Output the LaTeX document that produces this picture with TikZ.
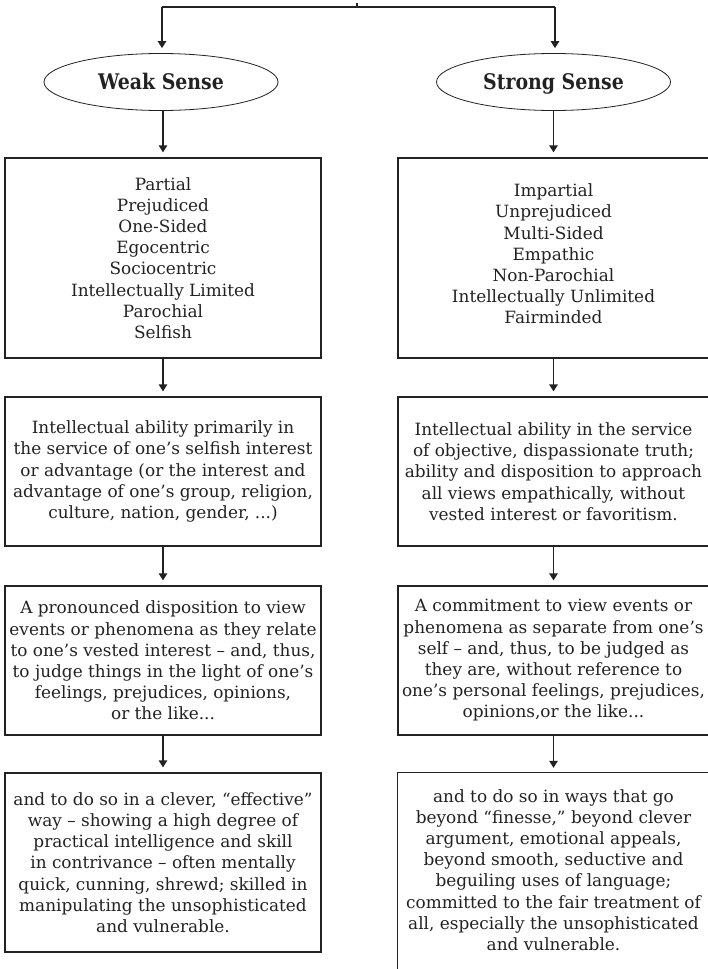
\documentclass[tikz,border=0pt]{standalone}
\usepackage{fontspec}
\setmainfont{DejaVu Serif}
\newfontfamily\titlefont[FakeStretch=0.88]{DejaVu Serif}
\usetikzlibrary{arrows.meta,shapes.geometric}
\definecolor{ink}{HTML}{222222}
\tikzset{
  line/.style={draw=ink, line width=1.3pt},
  arr/.style={line, -{Triangle[width=8.5pt,length=7pt]}, shorten >=5pt},
  oval/.style={ellipse, draw=ink, line width=0.8pt, minimum width=234pt, minimum height=57pt, inner sep=0pt,
    text height=15.7pt, text depth=0pt,
    font=\titlefont\bfseries\fontsize{21.5}{24}\selectfont, text=ink},
  box/.style={rectangle, draw=ink, line width=1.3pt, inner sep=0pt, align=center, text=ink,
    font=\fontsize{16.9}{21.2}\selectfont},
  txt/.style={inner sep=0pt, align=center, text=ink, font=\fontsize{16.9}{21.2}\selectfont},
}
\begin{document}
\begin{tikzpicture}[x=1pt,y=-1pt]
\useasboundingbox (0,0) rectangle (708,969);
% top connector
\coordinate (top) at (357,7);
\coordinate (tick) at (357,3);
\coordinate (jl) at (162,7);
\coordinate (jr) at (555,7);
\draw[line] (tick) -- (top);
\draw[line] (jl) -- (jr);
% ellipses
\node[oval] (WS) at (161,82) {Weak Sense};
\node[oval] (SS) at (553.5,82) {Strong Sense};
\draw[arr] (jl) -- (jl |- WS.north);
\draw[arr] (jr) -- (jr |- SS.north);
% row 1
\node[box, minimum width=316pt, minimum height=200pt] (L1) at (163,258)
 {Partial\\Prejudiced\\One-Sided\\Egocentric\\Sociocentric\\Intellectually Limited\\Parochial\\Selfish};
\node[box, minimum width=311pt, minimum height=200pt] (R1) at (553.5,258) {};
\node[txt] at (553.5,254)
 {Impartial\\Unprejudiced\\Multi-Sided\\Empathic\\Non-Parochial\\Intellectually Unlimited\\Fairminded};
% row 2
\node[box, minimum width=316pt, minimum height=149pt] (L2) at (163,471.5)
 {Intellectual ability primarily in\\the service of one’s selfish interest\\or advantage (or the interest and\\advantage of one’s group, religion,\\culture, nation, gender, ...)};
\node[box, minimum width=311pt, minimum height=149pt] (R2) at (553.5,471.5)
 {Intellectual ability in the service\\of objective, dispassionate truth;\\ability and disposition to approach\\all views empathically, without\\vested interest or favoritism.};
% row 3
\node[box, minimum width=316pt, minimum height=149pt] (L3) at (163,660.5)
 {A pronounced disposition to view\\events or phenomena as they relate\\to one’s vested interest – and, thus,\\to judge things in the light of one’s\\feelings, prejudices, opinions,\\or the like...};
\node[box, minimum width=311pt, minimum height=149pt] (R3) at (553.5,660.5)
 {A commitment to view events or\\phenomena as separate from one’s\\self – and, thus, to be judged as\\they are, without reference to\\one’s personal feelings, prejudices,\\opinions,or the like...};
% row 4
\node[box, minimum width=316pt, minimum height=179pt] (L4) at (163,862.5)
 {and to do so in a clever, “effective”\\way – showing a high degree of\\practical intelligence and skill\\in contrivance – often mentally\\quick, cunning, shrewd; skilled in\\manipulating the unsophisticated\\and vulnerable.};
\node[inner sep=0pt, minimum width=311pt, minimum height=240pt] (R4) at (553.5,893) {};
\draw[line] (R4.south west) -- (R4.north west) -- (R4.north east) -- (R4.south east);
\node[txt, anchor=north] (R4t) at (553.5,789)
 {and to do so in ways that go\\beyond “finesse,” beyond clever\\argument, emotional appeals,\\beyond smooth, seductive and\\beguiling uses of language;\\committed to the fair treatment of\\all, especially the unsophisticated\\and vulnerable.};
% vertical arrows
\draw[arr] (WS.south -| L1.north) -- (L1.north);
\draw[arr] (SS.south -| R1.north) -- (R1.north);
\draw[arr] (L1.south) -- (L2.north);
\draw[arr] (R1.south) -- (R2.north);
\draw[arr] (L2.south) -- (L3.north);
\draw[arr] (R2.south) -- (R3.north);
\draw[arr] (L3.south) -- (L4.north);
\draw[arr] (R3.south) -- (R4.north);
\end{tikzpicture}
\end{document}
